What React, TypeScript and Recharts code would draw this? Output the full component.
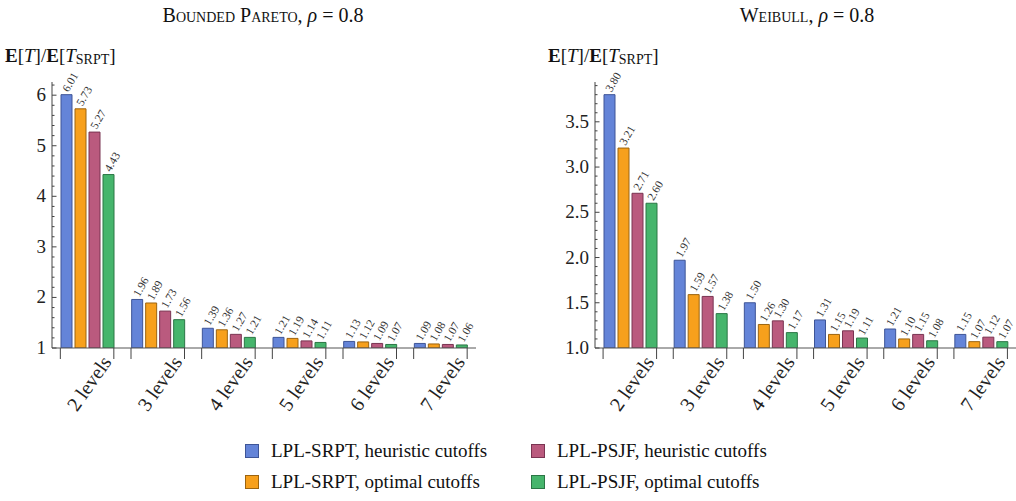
import React from "react";
import { BarChart, Bar, XAxis, YAxis, LabelList } from "recharts";

const categories = ["2 levels", "3 levels", "4 levels", "5 levels", "6 levels", "7 levels"];

const paretoSrptHeuristic = [6.01, 1.96, 1.39, 1.21, 1.13, 1.09];
const paretoSrptOptimal = [5.73, 1.89, 1.36, 1.19, 1.12, 1.08];
const paretoPsjfHeuristic = [5.27, 1.73, 1.27, 1.14, 1.09, 1.07];
const paretoPsjfOptimal = [4.43, 1.56, 1.21, 1.11, 1.07, 1.06];

const weibullSrptHeuristic = [3.8, 1.97, 1.5, 1.31, 1.21, 1.15];
const weibullSrptOptimal = [3.21, 1.59, 1.26, 1.15, 1.1, 1.07];
const weibullPsjfHeuristic = [2.71, 1.57, 1.3, 1.19, 1.15, 1.12];
const weibullPsjfOptimal = [2.6, 1.38, 1.17, 1.11, 1.08, 1.07];

const paretoTicks = [1, 1.2, 1.4, 1.6, 1.8, 2, 2.2, 2.4, 2.6, 2.8, 3, 3.2, 3.4, 3.6, 3.8, 4, 4.2, 4.4, 4.6, 4.8, 5, 5.2, 5.4, 5.6, 5.8, 6, 6.2];
const paretoMajor = [1, 2, 3, 4, 5, 6];
const weibullTicks = [1, 1.1, 1.2, 1.3, 1.4, 1.5, 1.6, 1.7, 1.8, 1.9, 2, 2.1, 2.2, 2.3, 2.4, 2.5, 2.6, 2.7, 2.8, 2.9, 3, 3.1, 3.2, 3.3, 3.4, 3.5, 3.6, 3.7, 3.8, 3.9];
const weibullMajor = [1, 1.5, 2, 2.5, 3, 3.5];

const seriesNames = [
  "LPL-SRPT, heuristic cutoffs",
  "LPL-SRPT, optimal cutoffs",
  "LPL-PSJF, heuristic cutoffs",
  "LPL-PSJF, optimal cutoffs",
];
const fills = ["#6484D8", "#F7A01C", "#BA5A7E", "#46B56C"];
const strokes = ["#3E5597", "#9C6410", "#7A3452", "#2B7645"];

const FONT = "'Liberation Serif', 'DejaVu Serif', serif";

function buildRows(a: number[], b: number[], c: number[], d: number[]) {
  return categories.map((name, i) => ({ name, s0: a[i], s1: b[i], s2: c[i], s3: d[i] }));
}

const paretoRows = buildRows(paretoSrptHeuristic, paretoSrptOptimal, paretoPsjfHeuristic, paretoPsjfOptimal);
const weibullRows = buildRows(weibullSrptHeuristic, weibullSrptOptimal, weibullPsjfHeuristic, weibullPsjfOptimal);

const PLOT_TOP = 82;
const PLOT_BOTTOM = 348;
const CHART_H = 501;
const XAXIS_H = 60;

function makeYTick(axisX: number, major: number[], fmt: (v: number) => string) {
  return (props: any) => {
    const v = props.payload.value;
    const y = props.y;
    const isMajor = major.some((m) => Math.abs(m - v) < 1e-6);
    return (
      <g>
        <line x1={axisX} x2={axisX + (isMajor ? 4.5 : 2.5)} y1={y} y2={y} stroke="#444" strokeWidth={1} />
        {isMajor && (
          <text x={axisX - 6} y={y + 6} textAnchor="end" style={{ fontFamily: FONT, fontSize: 19 }} fill="#222">
            {fmt(v)}
          </text>
        )}
      </g>
    );
  };
}

const XTick = (props: any) => {
  const x = props.x;
  const y = PLOT_BOTTOM;
  const ax = x + 25;
  const ay = y + 14;
  return (
    <g>
      <line x1={x - 27} x2={x - 27} y1={y} y2={y + 11} stroke="#444" strokeWidth={1} />
      <line x1={x + 26.5} x2={x + 26.5} y1={y} y2={y + 11} stroke="#444" strokeWidth={1} />
      <text
        x={ax}
        y={ay}
        textAnchor="end"
        style={{ fontFamily: FONT, fontSize: 20 }}
        fill="#222"
        transform={`rotate(-55 ${ax} ${ay})`}
      >
        {props.payload.value}
      </text>
    </g>
  );
};

const ValueLabel = (props: any) => {
  const { x, y, width, value } = props;
  const ax = x + width / 2 + 2;
  const ay = y - 2;
  return (
    <text
      x={ax}
      y={ay}
      style={{ fontFamily: FONT, fontSize: 11.5 }}
      fill="#333"
      textAnchor="start"
      transform={`rotate(-60 ${ax} ${ay})`}
    >
      {Number(value).toFixed(2)}
    </text>
  );
};

function Panel(props: {
  rows: any[];
  width: number;
  yWidth: number;
  rightMargin: number;
  domainMax: number;
  ticks: number[];
  major: number[];
  fmt: (v: number) => string;
}) {
  const { rows, width, yWidth, rightMargin, domainMax, ticks, major, fmt } = props;
  return (
    <BarChart
      width={width}
      height={CHART_H}
      data={rows}
      margin={{ top: PLOT_TOP, right: rightMargin, left: 0, bottom: CHART_H - PLOT_BOTTOM - XAXIS_H }}
      barSize={11}
      barGap={3}
    >
      <XAxis
        dataKey="name"
        height={XAXIS_H}
        interval={0}
        tickLine={false}
        axisLine={{ stroke: "#555", strokeWidth: 1 }}
        tick={XTick}
      />
      <YAxis
        type="number"
        width={yWidth}
        domain={[1, domainMax]}
        ticks={ticks}
        interval={0}
        allowDataOverflow
        tickLine={false}
        axisLine={{ stroke: "#444", strokeWidth: 1 }}
        tick={makeYTick(yWidth, major, fmt)}
      />
      {[0, 1, 2, 3].map((i) => (
        <Bar
          key={i}
          dataKey={`s${i}`}
          fill={fills[i]}
          stroke={strokes[i]}
          strokeWidth={1}
          isAnimationActive={false}
        >
          <LabelList dataKey={`s${i}`} content={ValueLabel} />
        </Bar>
      ))}
    </BarChart>
  );
}

const YLabel = (props: { left: number }) => (
  <div
    style={{
      position: "absolute",
      left: props.left,
      top: 44,
      fontFamily: FONT,
      fontSize: 19,
      color: "#111",
      whiteSpace: "nowrap",
      lineHeight: "24px",
    }}
  >
    <b>E</b>[<i>T</i>]/<b>E</b>[<i>T</i>
    <span style={{ fontSize: 14, position: "relative", top: 2 }}>SRPT</span>]
  </div>
);

const Title = (props: { center: number; name: string }) => (
  <div
    style={{
      position: "absolute",
      left: props.center - 200,
      width: 400,
      top: 2,
      textAlign: "center",
      fontFamily: FONT,
      fontSize: 20,
      color: "#111",
      whiteSpace: "nowrap",
      lineHeight: "26px",
    }}
  >
    <span style={{ fontVariant: "small-caps" }}>{props.name}</span>, <i>ρ</i> = 0.8
  </div>
);

const LegendItem = (props: { i: number; left: number; top: number }) => (
  <div
    style={{
      position: "absolute",
      left: props.left,
      top: props.top,
      display: "flex",
      alignItems: "center",
      fontFamily: FONT,
      fontSize: 19,
      color: "#111",
      whiteSpace: "nowrap",
    }}
  >
    <div
      style={{
        width: 14,
        height: 14,
        background: fills[props.i],
        border: `1px solid ${strokes[props.i]}`,
        marginRight: 12,
        boxSizing: "border-box",
      }}
    />
    <span>{seriesNames[props.i]}</span>
  </div>
);

export default function App() {
  return (
    <div style={{ position: "absolute", left: 0, top: 0, width: 1016, height: 501, background: "#fff", overflow: "hidden" }}>
      <div style={{ position: "absolute", left: 0, top: 0 }}>
        <Panel
          rows={paretoRows}
          width={500}
          yWidth={52}
          rightMargin={24}
          domainMax={6.2605}
          ticks={paretoTicks}
          major={paretoMajor}
          fmt={(v) => String(v)}
        />
      </div>
      <div style={{ position: "absolute", left: 508, top: 0 }}>
        <Panel
          rows={weibullRows}
          width={508}
          yWidth={87}
          rightMargin={0}
          domainMax={3.94}
          ticks={weibullTicks}
          major={weibullMajor}
          fmt={(v) => v.toFixed(1)}
        />
      </div>
      <Title center={263} name="Bounded Pareto" />
      <Title center={807} name="Weibull" />
      <YLabel left={5} />
      <YLabel left={548} />
      <LegendItem i={0} left={245} top={440} />
      <LegendItem i={1} left={245} top={471} />
      <LegendItem i={2} left={531} top={440} />
      <LegendItem i={3} left={531} top={471} />
    </div>
  );
}
